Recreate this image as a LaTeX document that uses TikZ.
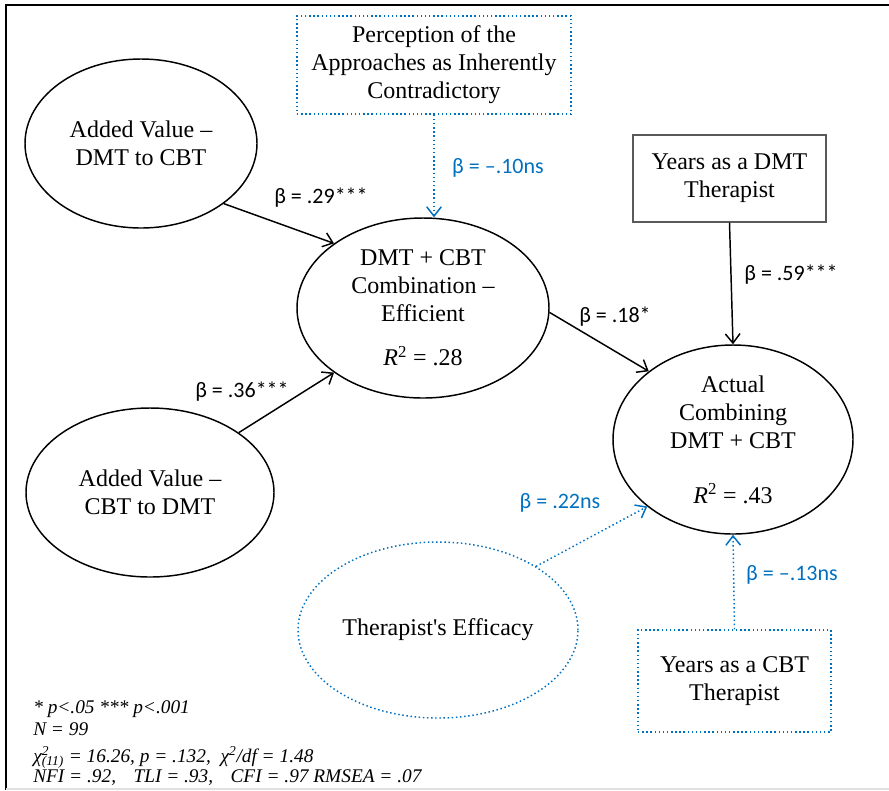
\documentclass[tikz,border=0pt]{standalone}
\usepackage{fontspec}
\setmainfont{Liberation Serif}
\newfontfamily\coeffont{Carlito}
\usepackage{tikz}
\usetikzlibrary{positioning,shapes.geometric,arrows.meta}
\usepackage{xcolor}
\definecolor{nsblue}{RGB}{0,112,192}
\definecolor{boxgray}{RGB}{90,90,90}
\newcommand\fitfont{\fontsize{14.5}{16.5}\selectfont\itshape\lineskiplimit=-20pt\relax}

\begin{document}
\begin{tikzpicture}[x=0.75pt,y=-0.75pt,
    every node/.style={font=\fontsize{18}{21}\selectfont, align=center},
    latent/.style={draw, ellipse, line width=1.1pt, inner sep=0pt},
    modlatent/.style={draw=nsblue, ellipse, dotted, line width=1.1pt, inner sep=0pt},
    measured/.style={draw=boxgray, rectangle, line width=0.8pt, inner sep=0pt},
    modbox/.style={draw=nsblue, rectangle, dotted, line width=1.1pt, inner sep=0pt},
    coef/.style={font=\coeffont\fontsize{16.5}{20}\selectfont, inner sep=0pt},
    modcoef/.style={coef, text=nsblue},
    effect/.style={line width=1.1pt, -{Straight Barb[length=7pt,width=11pt]}},
    weakeffect/.style={effect, nsblue, dotted}]
  \useasboundingbox (0,0) rectangle (889,790);
  % frame
  \draw[line width=1.6pt] (6,790) -- (6,5) -- (889,5);
  \draw[black!12, line width=0.8pt] (6,789) -- (889,789);

  % constructs
  \node[latent, minimum width=174pt, minimum height=126.75pt] (dmtcbt) at (141,143.5)
    {Added Value --\\DMT to CBT};
  \node[latent, minimum width=186pt, minimum height=126.75pt] (cbtdmt) at (150,492.5)
    {Added Value --\\CBT to DMT};
  \node[latent, minimum width=189pt, minimum height=135pt] (comb) at (423,308)
    {DMT + CBT\\Combination --\\Efficient\\[12pt]\textit{R}\textsuperscript{2} = .28};
  \node[latent, minimum width=180pt, minimum height=141.75pt] (actual) at (733,439.5)
    {Actual\\Combining\\DMT + CBT\\[20pt]\textit{R}\textsuperscript{2} = .43};
  \node[modlatent, minimum width=210pt, minimum height=132pt] (efficacy) at (438,630)
    {Therapist\textquotesingle s Efficacy};

  % observed
  \node[modbox, minimum width=205.5pt, minimum height=73.5pt] (percep) at (434,65)
    {Perception of the\\Approaches as Inherently\\Contradictory};
  \node[measured, minimum width=144.75pt, minimum height=65.25pt] (dmtyrs) at (729.5,178.5)
    {Years as a DMT\\Therapist};
  \node[modbox, minimum width=144.75pt, minimum height=76.5pt] (cbtyrs) at (734.5,681)
    {Years as a CBT\\Therapist};

  % paths
  \draw[effect] (dmtcbt.-36) -- (comb.144);
  \draw[effect] (cbtdmt.34) -- (comb.216);
  \draw[effect] (comb.-2) -- (actual.141);
  \draw[effect] (dmtyrs.south) -- (actual.north);
  \draw[weakeffect] (percep.south) -- (percep.south |- comb.north);
  \draw[weakeffect] (efficacy.33) -- (actual.218);
  \draw[weakeffect] (cbtyrs.north) -- (actual.south);

  % coefficients
  \node[coef] (b29) at (321,198) {β = .29***};
  \node[coef] (b36) at (242,392) {β = .36***};
  \node[coef] (b18) at (615,317) {β = .18*};
  \node[coef] (b59) at (791,275) {β = .59***};
  \node[modcoef] (b10) at (498,168) {β = –.10ns};
  \node[modcoef] (b22) at (560,503) {β = .22ns};
  \node[modcoef] (b13) at (792,575) {β = –.13ns};

  % fit
  \node[anchor=north west, align=left, inner sep=0pt, font=\fitfont] (fit) at (33,700)
    {* p<.05 *** p<.001\\
     N = 99\\[3.75pt]
     χ\rlap{\textsuperscript{2}}\textsubscript{(11)} = 16.26, p = .132,\ \ χ\textsuperscript{2}/df = 1.48\\[-1.5pt]
     NFI = .92,\hspace{0.9em}TLI = .93,\hspace{0.9em}CFI = .97 RMSEA = .07};
\end{tikzpicture}
\end{document}
